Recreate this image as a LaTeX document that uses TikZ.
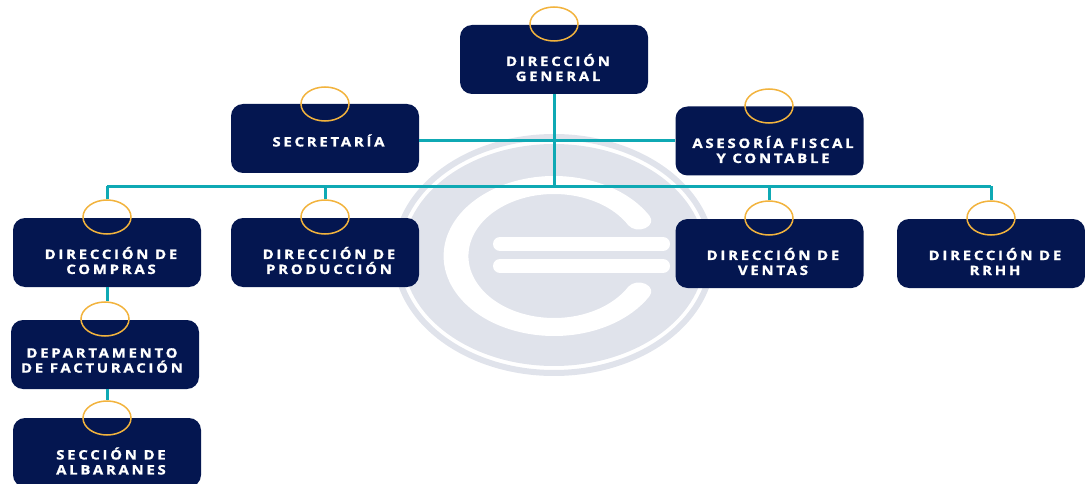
\documentclass[tikz,border=0pt]{standalone}
\usepackage{fontspec}
\usetikzlibrary{shapes.geometric}
\newfontfamily\cajafont[LetterSpace=21, FakeStretch=1.15, FakeBold=1.2]{Open Sans}
\definecolor{marino}{HTML}{041650}
\definecolor{turquesa}{HTML}{0FA9B4}
\definecolor{ambar}{HTML}{F2B33D}
\definecolor{sello}{HTML}{E0E3EB}
\tikzset{
  caja/.style={fill=marino, rounded corners=12pt, minimum width=188pt, minimum height=69pt, inner sep=0pt},
  texto/.style={text=white, align=center, font=\cajafont\bfseries\fontsize{13}{15}\selectfont, inner sep=0pt},
  anillo/.style={ellipse, draw=ambar, line width=1.5pt, minimum width=48pt, minimum height=34pt, inner sep=0pt},
  conector/.style={draw=turquesa, line width=3pt},
}
\begin{document}
\begin{tikzpicture}[x=1pt, y=-1pt]
  \useasboundingbox (0, 0) rectangle (1085, 484);
  \clip (0, 0) rectangle (1085, 484);
  % sello de fondo
  \draw[sello, line width=6pt] (554, 255) ellipse [x radius=158, y radius=118];
  \fill[sello] (554, 255) ellipse [x radius=151, y radius=111];
  \draw[white, line width=18pt, line cap=round, transform canvas={shift={(554, 256)}, xscale=1.38}] (61.5, -35.5) arc [start angle=-30, end angle=-330, radius=71];
  \draw[white, line width=14pt, line cap=round] (500, 244) -- (663, 244);
  \draw[white, line width=14pt, line cap=round] (500, 266) -- (663, 266);
  % cajas
  \node[caja] (general) at (554, 59.5) {};
  \node[caja] (secretaria) at (325, 138.5) {};
  \node[caja] (asesoria) at (769.5, 141) {};
  \node[caja] (compras) at (107, 252.5) {};
  \node[caja] (produccion) at (325, 252.5) {};
  \node[caja] (ventas) at (769.5, 253.5) {};
  \node[caja] (rrhh) at (991, 253.5) {};
  \node[caja] (depto) at (105, 354.5) {};
  \node[caja] (seccion) at (107, 452.5) {};
  % anillos
  \node[anillo] (o-general) at (554, 24) {};
  \node[anillo] (o-secretaria) at (325, 104) {};
  \node[anillo] (o-asesoria) at (769, 106) {};
  \node[anillo] (o-compras) at (107, 217) {};
  \node[anillo] (o-produccion) at (325, 217) {};
  \node[anillo] (o-ventas) at (769, 218) {};
  \node[anillo] (o-rrhh) at (991, 218) {};
  \node[anillo] (o-depto) at (105, 319) {};
  \node[anillo] (o-seccion) at (107, 418) {};
  % lineas
  \coordinate (barra) at (554, 186.5);
  \draw[conector] (general.south) -- (barra);
  \draw[conector] (secretaria.east |- asesoria.west) -- (asesoria.west);
  \draw[conector] (o-compras.north |- barra) -- (o-rrhh.north |- barra);
  \draw[conector] (o-compras.north) -- (o-compras.north |- barra);
  \draw[conector] (o-produccion.north) -- (o-produccion.north |- barra);
  \draw[conector] (o-ventas.north) -- (o-ventas.north |- barra);
  \draw[conector] (o-rrhh.north) -- (o-rrhh.north |- barra);
  \draw[conector] (compras.south) -- (compras.south |- o-depto.north);
  \draw[conector] (compras.south |- depto.south) -- (compras.south |- o-seccion.north);
  % textos
  \node[texto] (t-general) at (558, 67.5) {DIRECCIÓN\\GENERAL};
  \node[texto] (t-secretaria) at (328.5, 140.5) {SECRETARÍA};
  \node[texto] (t-asesoria) at (773, 149.5) {ASESORÍA FISCAL\\Y CONTABLE};
  \node[texto] (t-compras) at (111, 260.5) {DIRECCIÓN DE\\COMPRAS};
  \node[texto] (t-produccion) at (329, 260.5) {DIRECCIÓN DE\\PRODUCCIÓN};
  \node[texto] (t-ventas) at (773, 261.5) {DIRECCIÓN DE\\VENTAS};
  \node[texto] (t-rrhh) at (995, 261.5) {DIRECCIÓN DE\\RRHH};
  \node[texto] (t-depto) at (102, 360.5) {DEPARTAMENTO\\DE FACTURACIÓN};
  \node[texto] (t-seccion) at (111, 461) {SECCIÓN DE\\ALBARANES};
\end{tikzpicture}
\end{document}
